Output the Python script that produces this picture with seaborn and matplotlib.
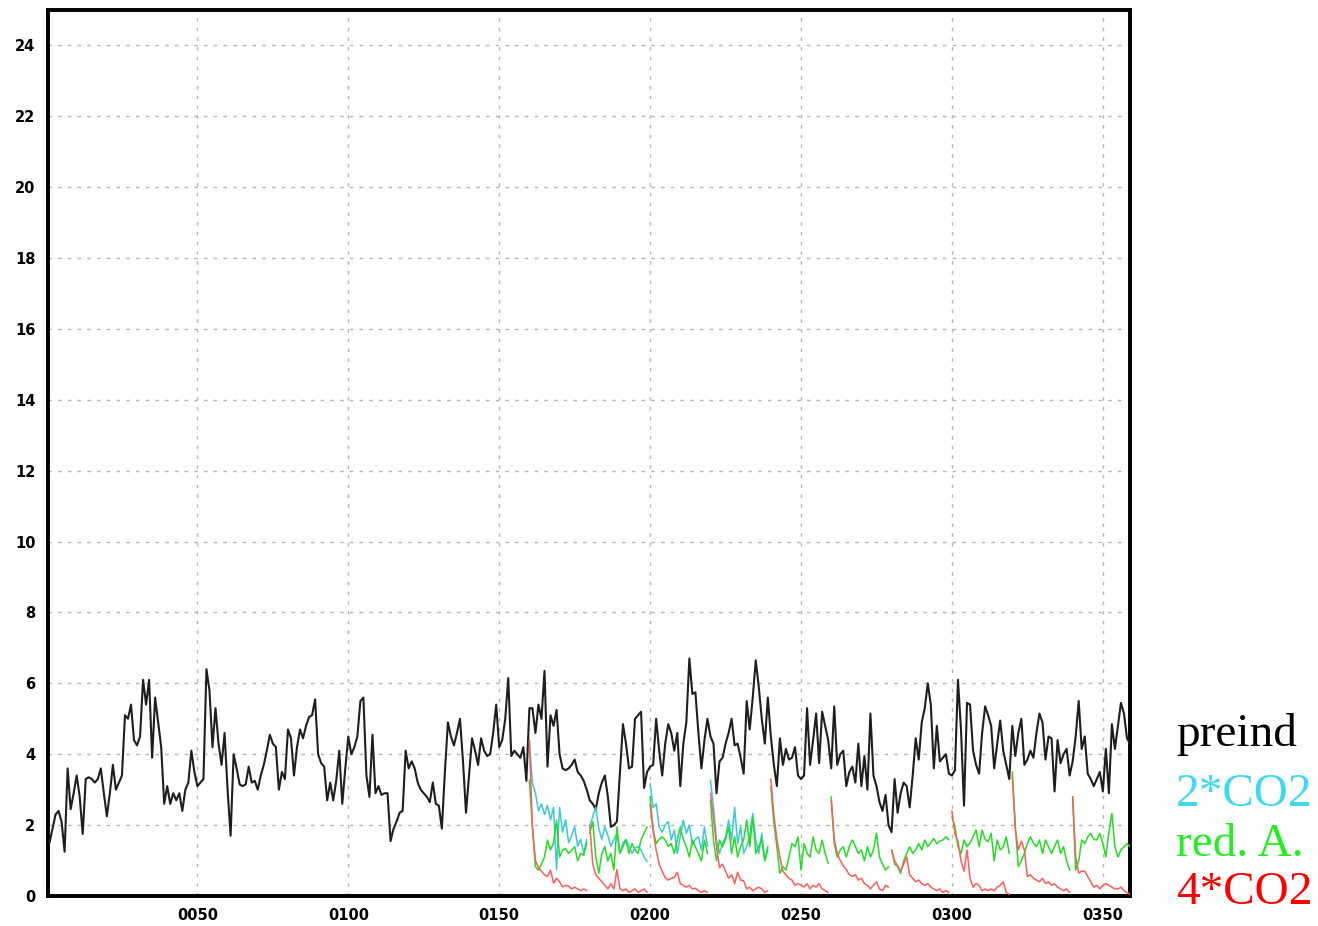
import numpy as np
import pandas as pd
import matplotlib
matplotlib.use("Agg")
import matplotlib.pyplot as plt
import seaborn as sns

# Pre-industrial control run, one value per model year (1..359)
preind = [
    1.5, 1.9, 2.3, 2.4, 2.1, 1.25, 3.6, 2.45, 2.9, 3.4,
    2.8, 1.75, 3.3, 3.35, 3.3, 3.2, 3.3, 3.6, 2.9, 2.25,
    2.9, 3.7, 3.0, 3.2, 3.4, 5.1, 5.0, 5.4, 4.4, 4.25,
    4.5, 6.1, 5.4, 6.1, 3.9, 5.6, 4.9, 4.2, 2.6, 3.1,
    2.6, 2.9, 2.7, 2.9, 2.4, 3.0, 3.2, 4.1, 3.5, 3.1,
    3.2, 3.3, 6.4, 5.8, 4.2, 5.3, 4.3, 3.7, 4.6, 3.0,
    1.7, 4.0, 3.6, 3.15, 3.1, 3.15, 3.65, 3.2, 3.25, 3.0,
    3.4, 3.7, 4.1, 4.55, 4.3, 4.2, 3.0, 3.5, 3.3, 4.7,
    4.45, 3.4, 4.2, 4.7, 4.45, 4.8, 5.05, 5.1, 5.55, 4.0,
    3.75, 3.65, 2.7, 3.2, 2.7, 3.25, 4.1, 2.6, 3.6, 4.5,
    4.0, 4.2, 4.5, 5.5, 5.6, 3.4, 2.8, 4.55, 2.9, 3.1,
    2.85, 2.9, 2.9, 1.55, 1.9, 2.1, 2.35, 2.4, 4.1, 3.6,
    3.8, 3.6, 3.2, 3.0, 2.9, 2.8, 2.65, 3.2, 2.6, 2.55,
    1.9, 3.5, 4.9, 4.5, 4.25, 4.6, 5.0, 3.8, 2.35, 3.4,
    4.45, 4.1, 3.7, 4.45, 4.1, 3.95, 4.0, 4.6, 5.4, 4.2,
    4.4, 5.0, 6.15, 3.95, 4.1, 4.0, 3.9, 4.2, 3.25, 5.3,
    5.3, 4.6, 5.4, 5.0, 6.35, 3.65, 5.1, 4.8, 5.25, 4.0,
    3.6, 3.55, 3.6, 3.7, 3.85, 3.5, 3.4, 3.25, 3.0, 2.7,
    2.6, 2.45, 2.9, 3.2, 3.4, 2.8, 1.95, 2.0, 2.1, 3.5,
    4.85, 4.3, 3.6, 3.65, 5.0, 5.1, 5.2, 3.05, 3.5, 3.65,
    3.7, 5.0, 4.1, 3.4, 4.3, 4.85, 4.6, 4.1, 4.6, 3.1,
    4.3, 4.9, 6.7, 5.7, 5.75, 4.6, 3.6, 4.4, 5.0, 4.5,
    4.3, 2.9, 3.8, 3.9, 4.3, 4.6, 5.0, 4.25, 4.3, 3.9,
    3.45, 5.5, 4.7, 5.6, 6.65, 5.9, 5.0, 4.3, 5.6, 4.5,
    3.7, 3.1, 4.45, 3.7, 4.15, 3.85, 3.9, 4.2, 3.4, 3.3,
    3.4, 5.3, 3.7, 4.4, 5.15, 3.75, 5.2, 4.8, 4.4, 3.6,
    5.35, 3.7, 4.0, 4.1, 3.1, 3.5, 3.65, 3.2, 4.3, 3.1,
    3.95, 3.0, 5.15, 3.4, 3.1, 2.65, 2.4, 2.85, 2.0, 1.8,
    3.3, 2.35, 2.9, 3.2, 3.1, 2.5, 3.4, 4.45, 3.85, 4.9,
    5.3, 6.0, 5.4, 3.6, 4.8, 3.8, 3.9, 4.0, 3.45, 3.4,
    3.55, 6.1, 4.7, 2.55, 5.45, 5.4, 4.1, 3.7, 3.45, 4.6,
    5.35, 5.1, 4.8, 3.6, 4.3, 4.95, 4.1, 3.7, 3.3, 4.8,
    3.95, 4.6, 5.0, 3.7, 3.85, 4.1, 3.9, 4.6, 5.15, 4.9,
    3.85, 4.5, 4.45, 2.95, 4.4, 3.75, 4.0, 4.15, 3.4, 3.8,
    4.5, 5.5, 4.15, 4.5, 3.45, 3.3, 3.1, 3.3, 3.5, 2.95,
    4.15, 2.9, 4.85, 4.15, 4.8, 5.45, 5.15, 4.45, 4.3,
]
preind_start = 1

# Perturbed runs: 20-year members branched off the control run
co2x2_starts = [160, 180, 200, 220]
co2x2 = [
    [4.4, 3.2, 2.9, 2.4, 2.6, 2.3, 2.55, 2.15, 2.5, 0.75,
     2.5, 1.8, 2.15, 1.5, 1.7, 1.95, 1.4, 1.6, 1.2, 1.6],
    [1.95, 2.25, 2.5, 1.9, 1.6, 1.95, 1.7, 1.4, 1.6, 1.75,
     1.2, 1.5, 1.6, 1.4, 1.2, 1.35, 1.4, 1.3, 1.1, 0.97],
    [3.17, 2.5, 2.6, 1.95, 1.8, 2.0, 2.1, 1.58, 1.86, 1.2,
     1.7, 2.14, 1.77, 2.0, 1.44, 1.6, 1.67, 1.3, 1.95, 1.4],
    [3.27, 2.5, 1.58, 1.2, 1.5, 1.67, 2.14, 1.58, 2.5, 1.48,
     1.95, 1.2, 1.39, 1.7, 2.33, 1.58, 1.2, 1.77, 1.0, 1.3],
]

red_a_starts = [160, 180, 200, 220, 240, 260, 280, 300, 320, 340]
red_a = [
    [3.27, 1.95, 0.83, 0.73, 0.9, 1.1, 1.58, 1.3, 1.5, 2.14,
     1.1, 1.3, 1.34, 1.2, 1.3, 1.39, 0.99, 1.2, 1.15, 1.5],
    [1.77, 2.1, 1.1, 0.64, 1.2, 1.39, 0.99, 1.2, 0.73, 1.95,
     1.2, 1.4, 1.58, 1.2, 1.48, 1.3, 1.2, 1.58, 1.77, 1.95],
    [2.8, 1.86, 1.48, 1.6, 1.67, 1.58, 1.4, 1.48, 1.2, 1.58,
     1.95, 1.6, 1.39, 1.1, 1.58, 1.39, 1.2, 0.99, 1.58, 1.2],
    [2.7, 1.58, 0.99, 1.58, 1.39, 1.6, 1.95, 1.2, 1.67, 1.1,
     1.4, 1.58, 2.14, 1.39, 2.23, 1.2, 1.4, 1.58, 0.99, 1.39],
    [3.08, 2.05, 1.39, 0.64, 0.83, 0.73, 1.1, 1.48, 1.39, 1.67,
     0.73, 1.48, 1.2, 1.1, 1.67, 1.3, 1.2, 1.58, 1.2, 0.92],
    [2.8, 1.48, 1.1, 1.3, 1.39, 1.1, 1.39, 1.58, 1.4, 1.2,
     1.3, 0.99, 1.39, 1.1, 1.3, 1.77, 1.1, 0.9, 0.73, 0.83],
    [1.3, 0.9, 0.83, 0.64, 0.99, 1.2, 1.39, 1.2, 1.3, 1.48,
     1.3, 1.58, 1.39, 1.5, 1.62, 1.48, 1.55, 1.58, 1.67, 1.58],
    [2.23, 1.95, 1.39, 1.2, 1.58, 1.39, 1.5, 1.67, 1.86, 1.39,
     1.86, 1.6, 1.53, 1.77, 0.99, 1.58, 1.3, 1.39, 1.67, 1.2],
    [3.5, 1.95, 0.83, 0.99, 1.2, 1.48, 1.67, 1.5, 1.39, 1.58,
     1.2, 1.58, 1.39, 1.2, 1.4, 1.58, 1.2, 1.39, 0.99, 0.73],
    [2.8, 0.73, 0.99, 1.58, 1.48, 1.67, 1.77, 1.6, 1.58, 1.77,
     1.48, 1.1, 1.8, 2.33, 1.39, 1.1, 1.3, 1.39, 1.48, 1.39],
]

co2x4_starts = [160, 180, 200, 220, 240, 260, 280, 300, 320, 340]
co2x4 = [
    [4.4, 1.95, 1.0, 0.8, 0.7, 0.6, 0.55, 0.73, 0.36, 0.5,
     0.4, 0.26, 0.3, 0.28, 0.2, 0.25, 0.2, 0.15, 0.2, 0.15],
    [2.0, 0.9, 0.6, 0.5, 0.4, 0.3, 0.2, 0.35, 0.2, 0.75,
     0.2, 0.15, 0.2, 0.1, 0.15, 0.2, 0.1, 0.15, 0.2, 0.1],
    [2.6, 1.85, 1.3, 0.9, 0.7, 0.52, 0.45, 0.5, 0.52, 0.67,
     0.35, 0.3, 0.25, 0.3, 0.2, 0.22, 0.15, 0.1, 0.15, 0.1],
    [2.9, 2.2, 1.4, 0.8, 0.9, 0.7, 0.5, 0.6, 0.35, 0.67,
     0.45, 0.43, 0.2, 0.25, 0.15, 0.2, 0.25, 0.2, 0.1, 0.15],
    [3.3, 2.3, 1.6, 1.1, 0.7, 0.6, 0.5, 0.45, 0.3, 0.35,
     0.3, 0.25, 0.35, 0.2, 0.3, 0.25, 0.35, 0.2, 0.15, 0.1],
    [2.7, 1.6, 1.2, 1.0, 0.85, 0.75, 0.6, 0.55, 0.6, 0.45,
     0.5, 0.35, 0.3, 0.2, 0.3, 0.4, 0.2, 0.15, 0.3, 0.25],
    [1.3, 1.0, 0.85, 0.7, 0.9, 1.1, 0.6, 0.5, 0.4, 0.45,
     0.35, 0.3, 0.35, 0.25, 0.2, 0.15, 0.2, 0.1, 0.15, 0.1],
    [2.4, 1.75, 1.55, 1.0, 0.7, 1.3, 0.5, 0.25, 0.35, 0.3,
     0.15, 0.2, 0.15, 0.2, 0.15, 0.25, 0.3, 0.4, 0.1, 0.05],
    [3.4, 1.9, 1.3, 1.55, 1.3, 0.55, 0.6, 0.5, 0.45, 0.4,
     0.5, 0.35, 0.4, 0.3, 0.35, 0.25, 0.2, 0.15, 0.2, 0.1],
    [2.8, 1.1, 0.65, 0.7, 0.7, 0.55, 0.4, 0.25, 0.3, 0.2,
     0.3, 0.35, 0.3, 0.25, 0.2, 0.2, 0.25, 0.15, 0.1, 0.05],
]

x_ticks = [50, 100, 150, 200, 250, 300, 350]
x_labels = ["0050", "0100", "0150", "0200", "0250", "0300", "0350"]
y_ticks = list(range(0, 25, 2))

legend_names = ["preind", "2*CO2", "red. A.", "4*CO2"]
legend_colors = ["#000000", "#40d8f0", "#22ee22", "#ff0000"]


def segments_frame(starts, segs):
    rows = []
    for member, (s, vals) in enumerate(zip(starts, segs)):
        for k, v in enumerate(vals):
            rows.append({"year": s + k, "value": v, "member": member})
    return pd.DataFrame(rows)


ctrl = pd.DataFrame({"year": np.arange(preind_start, preind_start + len(preind)),
                     "value": preind})
df_x2 = segments_frame(co2x2_starts, co2x2)
df_ra = segments_frame(red_a_starts, red_a)
df_x4 = segments_frame(co2x4_starts, co2x4)

sns.set_style("white")
fig = plt.figure(figsize=(13.18, 9.26), dpi=100)
ax = fig.add_axes([48 / 1318, 1 - 896 / 926, (1130 - 48) / 1318, (896 - 10) / 926])

grid_kw = dict(color="#b4b4b4", lw=1.0, ls=(0, (2.5, 4.5)), zorder=0)
for xt in x_ticks:
    ax.axvline(xt, **grid_kw)
for yt in y_ticks[1:]:
    ax.axhline(yt, **grid_kw)

sns.lineplot(data=ctrl, x="year", y="value", color="#1e1e1e", lw=1.5,
             ax=ax, legend=False, zorder=3)
sns.lineplot(data=df_x2, x="year", y="value", units="member", estimator=None,
             color="#3cc8d8", lw=1.1, ax=ax, legend=False, zorder=4)
sns.lineplot(data=df_ra, x="year", y="value", units="member", estimator=None,
             color="#22dd22", lw=1.1, ax=ax, legend=False, zorder=5)
sns.lineplot(data=df_x4, x="year", y="value", units="member", estimator=None,
             color="#ff5c5c", lw=1.1, ax=ax, legend=False, zorder=6)

ax.set_xlim(0.5, 359)
ax.set_ylim(0, 25)
ax.set_xticks(x_ticks)
ax.set_xticklabels(x_labels)
ax.set_xticks(np.arange(5, 359, 5), minor=True)
ax.set_yticks(y_ticks)
ax.set_xlabel("")
ax.set_ylabel("")

for sp in ax.spines.values():
    sp.set_visible(True)
    sp.set_linewidth(2.8)
    sp.set_color("black")

ax.tick_params(axis="both", which="major", direction="out", length=6, width=2.2,
               labelsize=10.5, pad=3, colors="black")
ax.tick_params(axis="x", which="minor", direction="in", length=3, width=1.2)
for lab in ax.get_xticklabels() + ax.get_yticklabels():
    lab.set_fontweight("bold")
    lab.set_family("DejaVu Sans")

# Run names stacked to the right of the panel
label_y = [735, 795, 845, 893]
for name, col, yp in zip(legend_names, legend_colors, label_y):
    fig.text(1176 / 1318, 1 - yp / 926, name, color=col, fontsize=34,
             family="Liberation Serif", ha="left", va="center")

fig.savefig("out.png", dpi=100, facecolor="white")
